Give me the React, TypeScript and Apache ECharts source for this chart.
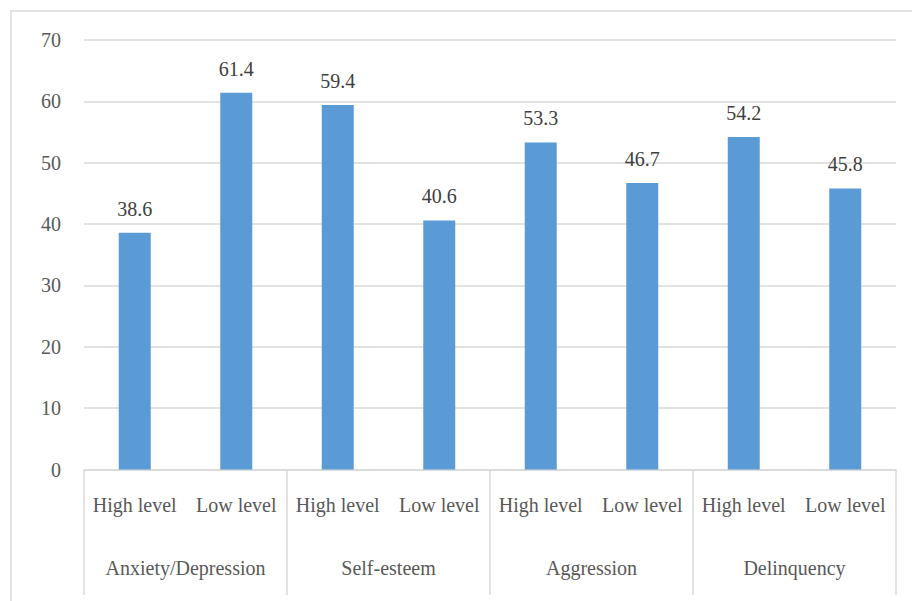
import React, { useEffect, useRef } from "react";
import * as echarts from "echarts";

const levels = ["High level", "Low level", "High level", "Low level", "High level", "Low level", "High level", "Low level"];
const groups = ["Anxiety/Depression", "Self-esteem", "Aggression", "Delinquency"];
const values = [38.6, 61.4, 59.4, 40.6, 53.3, 46.7, 54.2, 45.8];
const yTicks = { min: 0, max: 70, interval: 10 };

const FONT = "Liberation Serif";

export default function App() {
  const ref = useRef<HTMLDivElement>(null);
  useEffect(() => {
    if (!ref.current) return;
    const chart = echarts.init(ref.current, undefined, { renderer: "svg" });
    chart.setOption({
      animation: false,
      textStyle: { fontFamily: FONT },
      graphic: [
        {
          type: "rect",
          shape: { x: 11, y: 11, width: 920, height: 620 },
          style: { fill: "none", stroke: "#D9D9D9", lineWidth: 1.5 },
          silent: true,
        },
      ],
      grid: { left: 84, right: 16, top: 40, bottom: 131.5, containLabel: false },
      xAxis: [
        {
          type: "category",
          data: levels,
          axisLine: { show: true, lineStyle: { color: "#D9D9D9", width: 1.5 } },
          axisTick: { show: false },
          axisLabel: { interval: 0, margin: 25, color: "#595959", fontSize: 20, fontFamily: FONT },
        },
        {
          type: "category",
          data: groups,
          position: "bottom",
          axisLine: { show: false },
          axisTick: { show: true, interval: 0, length: 125.5, lineStyle: { color: "#D9D9D9", width: 1.5 } },
          axisLabel: { interval: 0, margin: 88, color: "#595959", fontSize: 20, fontFamily: FONT },
        },
      ],
      yAxis: {
        type: "value",
        min: yTicks.min,
        max: yTicks.max,
        interval: yTicks.interval,
        axisLine: { show: false },
        axisTick: { show: false },
        splitLine: { lineStyle: { color: "#D9D9D9", width: 1.5 } },
        axisLabel: { margin: 23, color: "#595959", fontSize: 20, fontFamily: FONT },
      },
      series: [
        {
          type: "bar",
          xAxisIndex: 0,
          data: values,
          barWidth: 32,
          itemStyle: { color: "#5B9BD5" },
          label: {
            show: true,
            position: "top",
            distance: 14,
            color: "#404040",
            fontSize: 20,
            fontFamily: FONT,
            formatter: (p: any) => p.value.toFixed(1),
          },
        },
      ],
    });
    return () => chart.dispose();
  }, []);
  return (
    <div ref={ref} style={{ position: "fixed", left: 0, top: 0, width: 912, height: 601, background: "#fff" }} />
  );
}
